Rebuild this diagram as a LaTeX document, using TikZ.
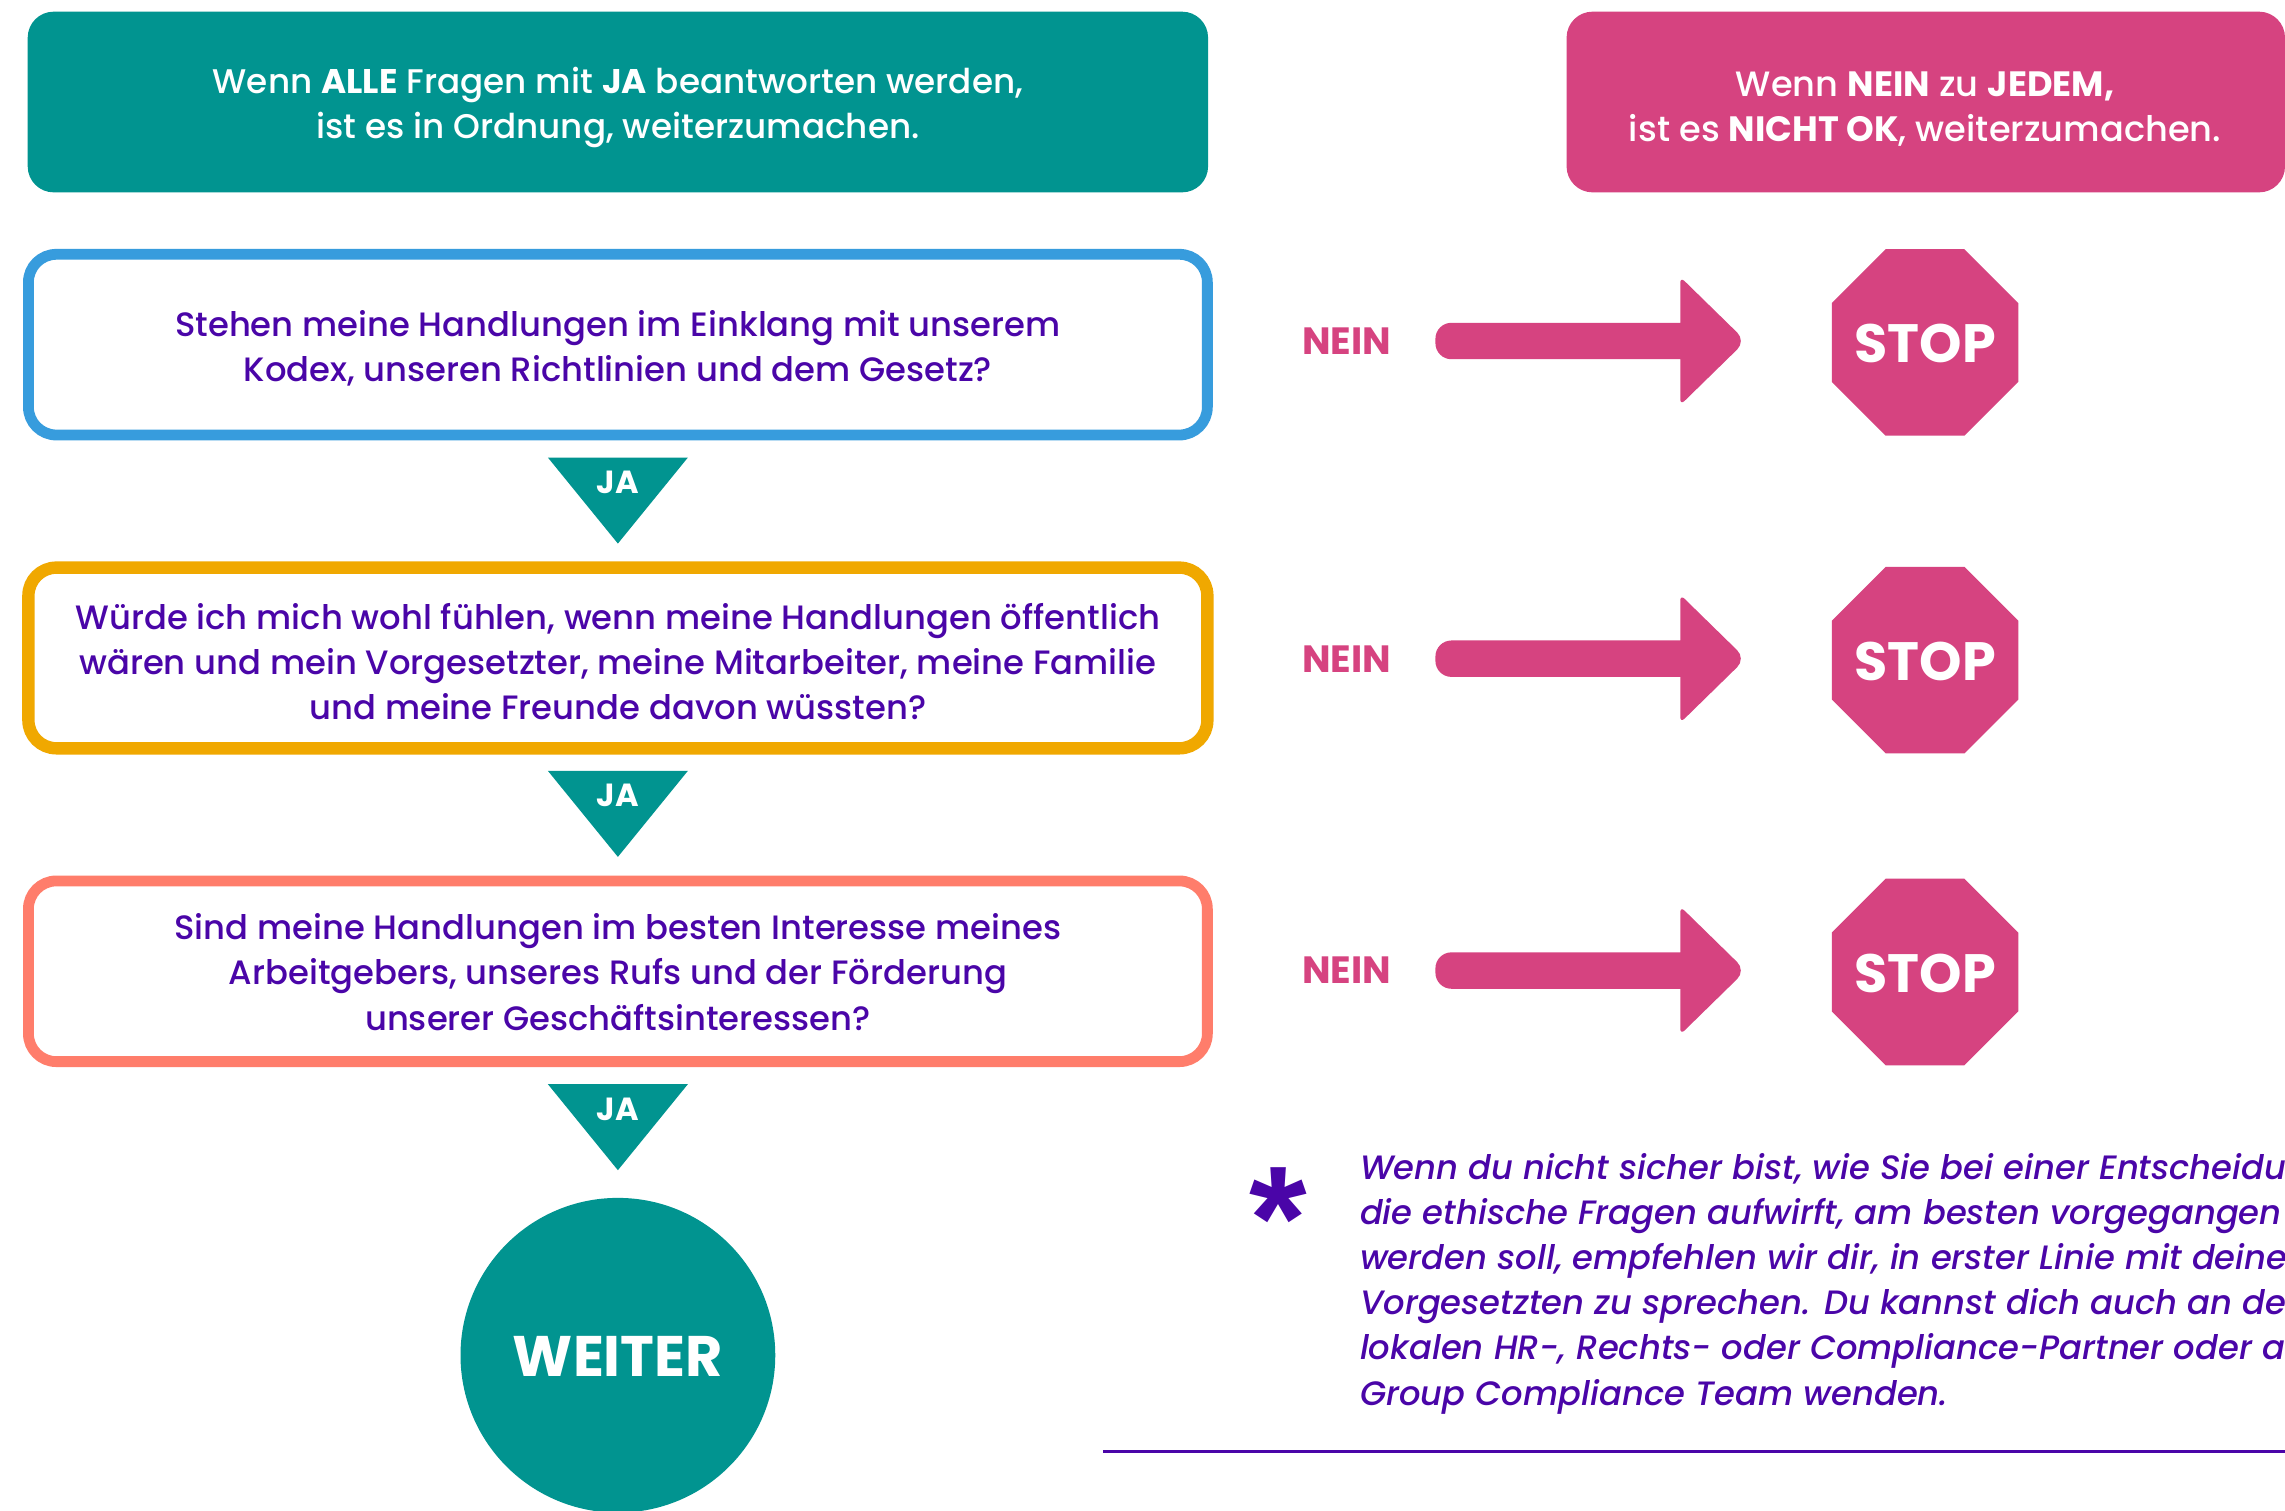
\documentclass[tikz,border=0pt]{standalone}
\usepackage{fontspec}
\setmainfont{Poppins}[UprightFont=* Medium,BoldFont=* Bold,ItalicFont=* Medium Italic,BoldItalicFont=* Bold Italic]
\newfontfamily\starfont{Liberation Sans}[Ligatures=TeX]
\definecolor{teal1}{HTML}{019490}
\definecolor{pink1}{HTML}{D64380}
\definecolor{violet1}{HTML}{4A05A8}
\definecolor{blue1}{HTML}{379CDD}
\definecolor{orange1}{HTML}{F0A800}
\definecolor{coral1}{HTML}{FF7D6B}
\tikzset{
  x=0.72865pt,y=-0.72865pt,
  txt/.style={font=\fontsize{16.9}{22.6}\selectfont,align=center,text=violet1,inner sep=0pt},
  headtxt/.style={font=\fontsize{17.1}{22.6}\selectfont,align=center,text=white,inner sep=0pt},
  qbox/.style={draw=#1,line width=5.4pt,fill=white,rounded corners=14pt},
  banner/.style={fill=#1,rounded corners=13pt},
  jatri/.style={fill=teal1},
  jatxt/.style={font=\fontsize{16}{16}\selectfont\bfseries,text=white,inner sep=0pt},
  neintxt/.style={font=\fontsize{19}{19}\selectfont\bfseries,text=pink1,inner sep=0pt},
  stoptxt/.style={font=\fontsize{27}{27}\selectfont\bfseries,text=white,inner sep=0pt},
  shapefill/.style={fill=pink1},
}
\newcommand{\nogroup}[3]{% #1 = centre y, #2 = name suffix, #3 = octagon centre y
  \node[neintxt] (nein#2) at (924,#1) {NEIN};
  \fill[shapefill] (1040,#1-12.5) [rounded corners=8pt] -- (985,#1-12.5) -- (985,#1+12.5) -- (1040,#1+12.5) [sharp corners] -- (1153,#1+12.5) -- (1153,#1+30) [rounded corners=3pt] -- (1153,#1+44) [rounded corners=6pt] -- (1198,#1) [rounded corners=3pt] -- (1153,#1-44) [sharp corners] -- (1153,#1-30) -- (1153,#1-12.5) -- cycle;
  \fill[shapefill] (1294,#3-64) -- (1348,#3-64) -- (1385,#3-27) -- (1385,#3+27) -- (1348,#3+64) -- (1294,#3+64) -- (1257,#3+27) -- (1257,#3-27) -- cycle;
  \node[stoptxt] (stop#2) at (1321,#3+1) {STOP};
}
\newcommand{\jagroup}[2]{% #1 = top y, #2 = name suffix
  \fill[jatri] (376,#1) -- (472,#1) -- (424,#1+59) -- cycle;
  \node[jatxt] (ja#2) at (424,#1+17) {JA};
}
\begin{document}
\begin{tikzpicture}
\useasboundingbox (0,0) rectangle (1568,1036.2);
\clip (0,0) rectangle (1568,1036.2);
\fill[white] (0,0) rectangle (1568,1036.2);
% banners
\fill[banner=teal1] (19,8) rectangle (829,132);
\node[headtxt] (allnode) at (424,74) {Wenn \textbf{ALLE} Fragen mit \textbf{JA} beantworten werden,\\ist es in Ordnung, weiterzumachen.};
\fill[banner=pink1] (1075,8) rectangle (1568,132);
\node[headtxt,font=\fontsize{17.6}{22.6}\selectfont] (neinnode) at (1321,75) {Wenn \textbf{NEIN} zu \textbf{JEDEM,}\\ist es \textbf{NICHT OK}, weiterzumachen.};
% questions
\draw[qbox=blue1] (19.5,174.5) rectangle (828.5,298.5);
\node[txt] (q1) at (424,239) {Stehen meine Handlungen im Einklang mit unserem\\Kodex, unseren Richtlinien und dem Gesetz?};
\draw[qbox=orange1,line width=6.2pt] (19.5,389.5) rectangle (828.5,513.5);
\node[txt] (q2) at (424,454) {Würde ich mich wohl fühlen, wenn meine Handlungen öffentlich\\wären und mein Vorgesetzter, meine Mitarbeiter, meine Familie\\und meine Freunde davon wüssten?};
\draw[qbox=coral1] (19.5,604.5) rectangle (828.5,728.5);
\node[txt] (q3) at (424,667) {Sind meine Handlungen im besten Interesse meines\\Arbeitgebers, unseres Rufs und der Förderung\\unserer Geschäftsinteressen?};
% JA
\jagroup{314}{1}
\jagroup{529}{2}
\jagroup{744}{3}
% WEITER
\fill[teal1] (424,930) circle[radius=108];
\node[font=\fontsize{28.6}{28.6}\selectfont\bfseries,text=white,inner sep=0pt] (weiter) at (424,931) {WEITER};
% NEIN rows
\nogroup{234}{1}{235}
\nogroup{452}{2}{453}
\nogroup{666}{3}{667}
% note
\node[font=\fontsize{74}{74}\selectfont\starfont\bfseries,text=violet1,inner sep=0pt,anchor=center] (star) at (877.5,836) {*};
\node[txt,anchor=north west,align=left,font=\fontsize{16.9}{22.6}\selectfont\itshape] (note) at (933,791) {Wenn du nicht sicher bist, wie Sie bei einer Entscheidun\\die ethische Fragen aufwirft, am besten vorgegangen\\werden soll, empfehlen wir dir, in erster Linie mit deinem\\Vorgesetzten zu sprechen. Du kannst dich auch an deinen\\lokalen HR-, Rechts- oder Compliance-Partner oder an\\Group Compliance Team wenden.};
\coordinate (ruleL) at (757,996);
\coordinate (ruleR) at (1568,996);
\draw[violet1,line width=1.1pt] (ruleL) -- (ruleR);
\end{tikzpicture}
\end{document}
